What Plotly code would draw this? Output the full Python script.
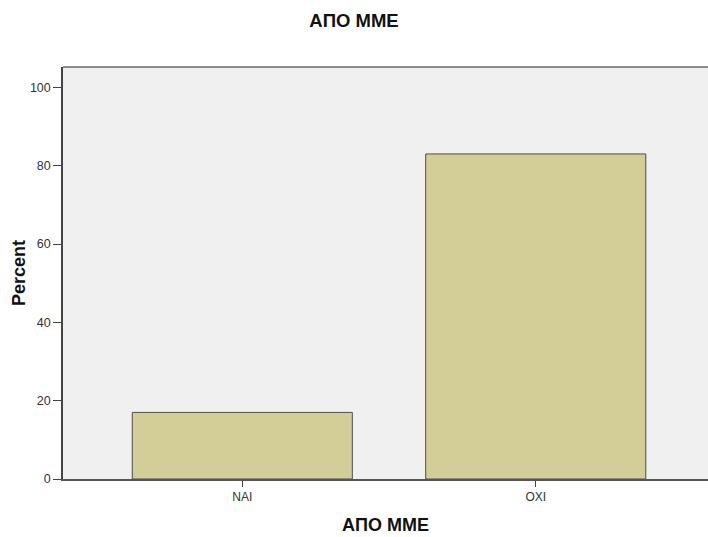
import plotly.graph_objects as go

categories = ["ΝΑΙ", "ΟΧΙ"]
percent = [17.0, 83.0]
y_ticks = [0, 20, 40, 60, 80, 100]
chart_title = "ΑΠΟ ΜΜΕ"
x_title = "ΑΠΟ ΜΜΕ"
y_title = "Percent"

FONT = "Liberation Sans, Arial, sans-serif"

W, H = 708, 537

fig = go.Figure(
    go.Bar(
        x=categories,
        y=percent,
        width=0.75,
        marker=dict(color="#D3CE97", line=dict(color="#4d4d4d", width=1)),
        hoverinfo="x+y",
    )
)

fig.update_layout(
    width=W,
    height=H,
    margin=dict(l=63, r=0, t=67, b=58),
    paper_bgcolor="white",
    plot_bgcolor="#F0F0F0",
    showlegend=False,
    font=dict(family=FONT, color="#333333", size=12),
    title=dict(
        text="<b>" + chart_title + "</b>",
        x=0.5,
        xref="container",
        xanchor="center",
        y=1 - 20.5 / H,
        yref="container",
        yanchor="middle",
        font=dict(family=FONT, size=18.5, color="#111111"),
    ),
    shapes=[
        dict(
            type="line", xref="paper", yref="paper",
            x0=0, x1=1, y0=1, y1=1,
            line=dict(color="#666666", width=1.5),
        )
    ],
)

fig.update_xaxes(
    range=[-0.611, 1.587],
    showgrid=False,
    zeroline=False,
    showline=True,
    linecolor="#555555",
    linewidth=1.5,
    ticks="outside",
    ticklen=6,
    tickcolor="#444444",
    tickfont=dict(size=12, color="#333333"),
    title=dict(
        text="<b>" + x_title + "</b>",
        font=dict(family=FONT, size=18, color="#111111"),
        standoff=15,
    ),
)

fig.update_yaxes(
    range=[0, 105.2],
    tickvals=y_ticks,
    showgrid=False,
    zeroline=False,
    showline=True,
    linecolor="#444444",
    linewidth=1.5,
    ticks="outside",
    ticklen=8,
    tickcolor="#444444",
    tickfont=dict(size=12.5, color="#333333"),
    title=dict(
        text="<b>" + y_title + "</b>",
        font=dict(family=FONT, size=18, color="#111111"),
        standoff=0,
    ),
)

fig.write_html(
    "out.html",
    config={"displayModeBar": False},
    post_script="document.body.style.margin='0';document.body.style.overflow='hidden';",
)
